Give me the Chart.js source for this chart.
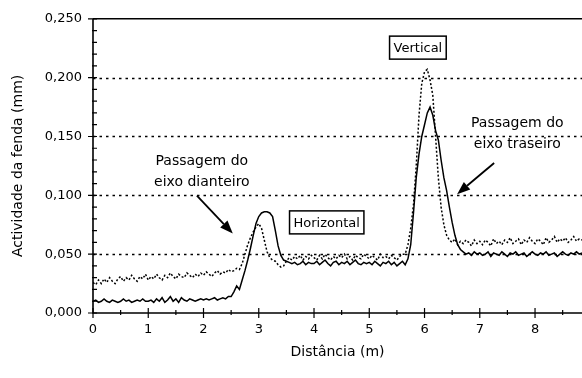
<!DOCTYPE html>
<html>
<head>
<meta charset="utf-8">
<script src="https://cdn.jsdelivr.net/npm/chart.js@4.4.0/dist/chart.umd.min.js"></script>
<style>
  html, body { margin: 0; padding: 0; background: #fff; }
  #wrap { width: 582px; height: 378px; }
</style>
</head>
<body>
<div id="wrap"><canvas id="myChart" width="582" height="378"></canvas></div>
<script>
// distance along the test (m), sampled every 5 cm
const distance = [
  0, 0.05, 0.1, 0.15, 0.2, 0.25, 0.3, 0.35, 0.4, 0.45, 0.5, 0.55, 0.6, 0.65, 0.7, 0.75, 0.8, 0.85, 0.9, 0.95,
  1, 1.05, 1.1, 1.15, 1.2, 1.25, 1.3, 1.35, 1.4, 1.45, 1.5, 1.55, 1.6, 1.65, 1.7, 1.75, 1.8, 1.85, 1.9, 1.95,
  2, 2.05, 2.1, 2.15, 2.2, 2.25, 2.3, 2.35, 2.4, 2.45, 2.5, 2.55, 2.6, 2.65, 2.7, 2.75, 2.8, 2.85, 2.9, 2.95,
  3, 3.05, 3.1, 3.15, 3.2, 3.25, 3.3, 3.35, 3.4, 3.45, 3.5, 3.55, 3.6, 3.65, 3.7, 3.75, 3.8, 3.85, 3.9, 3.95,
  4, 4.05, 4.1, 4.15, 4.2, 4.25, 4.3, 4.35, 4.4, 4.45, 4.5, 4.55, 4.6, 4.65, 4.7, 4.75, 4.8, 4.85, 4.9, 4.95,
  5, 5.05, 5.1, 5.15, 5.2, 5.25, 5.3, 5.35, 5.4, 5.45, 5.5, 5.55, 5.6, 5.65, 5.7, 5.75, 5.8, 5.85, 5.9, 5.95,
  6, 6.05, 6.1, 6.15, 6.2, 6.25, 6.3, 6.35, 6.4, 6.45, 6.5, 6.55, 6.6, 6.65, 6.7, 6.75, 6.8, 6.85, 6.9, 6.95,
  7, 7.05, 7.1, 7.15, 7.2, 7.25, 7.3, 7.35, 7.4, 7.45, 7.5, 7.55, 7.6, 7.65, 7.7, 7.75, 7.8, 7.85, 7.9, 7.95,
  8, 8.05, 8.1, 8.15, 8.2, 8.25, 8.3, 8.35, 8.4, 8.45, 8.5, 8.55, 8.6, 8.65, 8.7, 8.75, 8.8, 8.85
];

// solid line
const horizontal = [
  0.010, 0.011, 0.009, 0.010, 0.012, 0.010, 0.009, 0.011, 0.010, 0.009, 0.010, 0.012, 0.010, 0.011, 0.009, 0.010, 0.011, 0.010, 0.012, 0.010,
  0.010, 0.011, 0.009, 0.012, 0.010, 0.013, 0.009, 0.011, 0.014, 0.010, 0.012, 0.009, 0.013, 0.011, 0.010, 0.012, 0.011, 0.010, 0.011, 0.012,
  0.011, 0.012, 0.011, 0.012, 0.013, 0.011, 0.012, 0.013, 0.012, 0.014, 0.014, 0.018, 0.023, 0.020, 0.028, 0.036, 0.045, 0.055, 0.066, 0.076,
  0.082, 0.085, 0.086, 0.086, 0.085, 0.082, 0.070, 0.057, 0.049, 0.045, 0.044, 0.043, 0.042, 0.043, 0.041, 0.042, 0.044, 0.041, 0.043, 0.042,
  0.042, 0.044, 0.041, 0.043, 0.045, 0.042, 0.040, 0.043, 0.044, 0.041, 0.043, 0.042, 0.044, 0.041, 0.043, 0.045, 0.042, 0.041, 0.043, 0.042,
  0.043, 0.041, 0.044, 0.042, 0.040, 0.043, 0.042, 0.044, 0.041, 0.043, 0.040, 0.042, 0.044, 0.041, 0.046, 0.058, 0.085, 0.115, 0.135, 0.150,
  0.160, 0.170, 0.175, 0.168, 0.155, 0.147, 0.130, 0.115, 0.104, 0.090, 0.077, 0.066, 0.058, 0.054, 0.052, 0.050, 0.051, 0.049, 0.052, 0.050,
  0.051, 0.049, 0.050, 0.052, 0.048, 0.051, 0.050, 0.049, 0.052, 0.050, 0.048, 0.051, 0.050, 0.052, 0.049, 0.050, 0.051, 0.048, 0.050, 0.052,
  0.050, 0.049, 0.051, 0.050, 0.052, 0.049, 0.050, 0.051, 0.048, 0.050, 0.052, 0.050, 0.049, 0.051, 0.050, 0.052, 0.050, 0.051
];

// dotted line
const vertical = [
  0.026, 0.024, 0.028, 0.025, 0.029, 0.026, 0.030, 0.027, 0.025, 0.029, 0.031, 0.027, 0.030, 0.028, 0.032, 0.029, 0.027, 0.031, 0.029, 0.033,
  0.028, 0.031, 0.029, 0.033, 0.030, 0.028, 0.032, 0.030, 0.034, 0.031, 0.029, 0.033, 0.031, 0.030, 0.034, 0.032, 0.030, 0.033, 0.031, 0.034,
  0.032, 0.035, 0.033, 0.031, 0.034, 0.036, 0.033, 0.035, 0.034, 0.037, 0.035, 0.036, 0.038, 0.037, 0.042, 0.050, 0.058, 0.064, 0.069, 0.073,
  0.076, 0.072, 0.062, 0.052, 0.047, 0.045, 0.044, 0.041, 0.039, 0.040, 0.044, 0.047, 0.045, 0.048, 0.046, 0.049, 0.045, 0.048, 0.046, 0.049,
  0.047, 0.045, 0.049, 0.046, 0.050, 0.047, 0.045, 0.048, 0.046, 0.049, 0.047, 0.050, 0.046, 0.048, 0.045, 0.049, 0.047, 0.046, 0.050, 0.048,
  0.046, 0.049, 0.047, 0.045, 0.050, 0.047, 0.048, 0.046, 0.049, 0.047, 0.045, 0.048, 0.050, 0.050, 0.058, 0.072, 0.092, 0.125, 0.168, 0.195,
  0.205, 0.207, 0.198, 0.185, 0.150, 0.115, 0.090, 0.075, 0.066, 0.062, 0.060, 0.063, 0.058, 0.061, 0.059, 0.062, 0.060, 0.057, 0.062, 0.059,
  0.061, 0.058, 0.062, 0.060, 0.057, 0.063, 0.059, 0.061, 0.058, 0.062, 0.060, 0.064, 0.059, 0.061, 0.063, 0.058, 0.062, 0.060, 0.064, 0.061,
  0.059, 0.063, 0.061, 0.058, 0.064, 0.060, 0.062, 0.065, 0.060, 0.063, 0.061, 0.064, 0.060, 0.062, 0.065, 0.061, 0.063, 0.062
];

const xTicks = [0, 1, 2, 3, 4, 5, 6, 7, 8];
const yTicks = [0, 0.05, 0.1, 0.15, 0.2, 0.25];

// labels drawn on top of the chart, in data units
const notes = [
  { x: 1.97, y: 0.129, text: "Passagem do" },
  { x: 1.97, y: 0.111, text: "eixo dianteiro" },
  { x: 7.68, y: 0.161, text: "Passagem do" },
  { x: 7.68, y: 0.143, text: "eixo traseiro" },
];
const boxes = [
  { x: 4.23, y: 0.077, text: "Horizontal" },
  { x: 5.88, y: 0.2255, text: "Vertical" },
];
const arrows = [
  { x0: 1.88, y0: 0.0997, x1: 2.53, y1: 0.0676 },
  { x0: 7.26, y0: 0.1275, x1: 6.59, y1: 0.101 },
];

const FONT = "'DejaVu Sans', sans-serif";

const toPts = (ys) => ys.map((v, i) => ({ x: distance[i], y: v }));

// gridlines, axes, ticks and the notes
const framePlugin = {
  id: "frame",
  beforeDatasetsDraw(chart) {
    const { ctx, chartArea: a, scales: { y } } = chart;
    ctx.save();
    ctx.strokeStyle = "#000";
    ctx.lineWidth = 1.6;
    ctx.setLineDash([2.5, 4]);
    yTicks.forEach((v) => {
      if (v === 0 || v === 0.25) return;
      const py = Math.round(y.getPixelForValue(v)) + 0.5;
      ctx.beginPath();
      ctx.moveTo(a.left, py);
      ctx.lineTo(a.right, py);
      ctx.stroke();
    });
    ctx.restore();
  },
  afterDatasetsDraw(chart) {
    const { ctx, chartArea: a, scales: { x, y } } = chart;
    ctx.save();
    ctx.strokeStyle = "#000";
    ctx.lineWidth = 1.6;
    ctx.beginPath();
    ctx.moveTo(a.left, a.top);
    ctx.lineTo(a.right, a.top);
    ctx.moveTo(a.left, a.top);
    ctx.lineTo(a.left, a.bottom);
    ctx.lineTo(a.right, a.bottom);
    ctx.stroke();

    // major and minor tick marks
    ctx.lineWidth = 1.2;
    ctx.beginPath();
    for (let i = 0; i <= 25; i++) {
      const py = y.getPixelForValue(i * 0.01);
      if (i % 5 === 0) {
        ctx.moveTo(a.left - 5, py);
        ctx.lineTo(a.left + 4, py);
      } else {
        ctx.moveTo(a.left - 1, py);
        ctx.lineTo(a.left + 4, py);
      }
    }
    for (let i = 0; i <= 17; i++) {
      const px = x.getPixelForValue(i * 0.5);
      if (i % 2 === 0) {
        ctx.moveTo(px, a.bottom - 5);
        ctx.lineTo(px, a.bottom + 5);
      } else {
        ctx.moveTo(px, a.bottom - 3);
        ctx.lineTo(px, a.bottom + 2);
      }
    }
    ctx.stroke();
    ctx.restore();
  },
  afterDraw(chart) {
    const { ctx, scales: { x, y } } = chart;
    ctx.save();
    ctx.fillStyle = "#000";
    ctx.strokeStyle = "#000";
    ctx.textAlign = "center";
    ctx.textBaseline = "middle";
    ctx.font = "14px " + FONT;
    notes.forEach((n) => {
      ctx.fillText(n.text, x.getPixelForValue(n.x), y.getPixelForValue(n.y));
    });
    ctx.font = "13px " + FONT;
    boxes.forEach((b) => {
      const px = x.getPixelForValue(b.x);
      const py = y.getPixelForValue(b.y);
      const w = ctx.measureText(b.text).width + 8;
      const h = 23;
      ctx.fillStyle = "#fff";
      ctx.fillRect(px - w / 2, py - h / 2, w, h);
      ctx.lineWidth = 1.5;
      ctx.strokeRect(px - w / 2, py - h / 2, w, h);
      ctx.fillStyle = "#000";
      ctx.fillText(b.text, px, py + 1);
    });
    arrows.forEach((ar) => {
      const sx = x.getPixelForValue(ar.x0), sy = y.getPixelForValue(ar.y0);
      const ex = x.getPixelForValue(ar.x1), ey = y.getPixelForValue(ar.y1);
      const ang = Math.atan2(ey - sy, ex - sx);
      const len = 13, half = 5;
      const bx = ex - len * Math.cos(ang), by = ey - len * Math.sin(ang);
      ctx.lineWidth = 1.8;
      ctx.beginPath();
      ctx.moveTo(sx, sy);
      ctx.lineTo(bx, by);
      ctx.stroke();
      ctx.beginPath();
      ctx.moveTo(ex, ey);
      ctx.lineTo(bx + half * Math.sin(ang), by - half * Math.cos(ang));
      ctx.lineTo(bx - half * Math.sin(ang), by + half * Math.cos(ang));
      ctx.closePath();
      ctx.fill();
    });
    ctx.restore();
  },
};

const ctx = document.getElementById("myChart").getContext("2d");

window.myChart = new Chart(ctx, {
  type: "line",
  data: {
    datasets: [
      {
        label: "Horizontal",
        data: toPts(horizontal),
        borderColor: "#000",
        borderWidth: 1.5,
        pointRadius: 0,
        tension: 0,
      },
      {
        label: "Vertical",
        data: toPts(vertical),
        borderColor: "#000",
        borderWidth: 1.5,
        borderDash: [2, 2],
        pointRadius: 0,
        tension: 0,
      },
    ],
  },
  options: {
    responsive: false,
    animation: false,
    devicePixelRatio: 1,
    layout: { padding: { top: 17, right: 0, bottom: 0, left: 0 } },
    plugins: {
      legend: { display: false },
      tooltip: { enabled: false },
    },
    scales: {
      x: {
        type: "linear",
        min: 0,
        max: 8.85,
        afterFit: (s) => { s.height = 65; },
        afterBuildTicks: (s) => { s.ticks = xTicks.map((v) => ({ value: v })); },
        grid: { display: false, drawTicks: false },
        border: { display: false },
        ticks: {
          padding: 9,
          color: "#000",
          font: { family: FONT, size: 13 },
          callback: (v) => String(v),
        },
        title: {
          display: true,
          text: "Distância (m)",
          color: "#000",
          font: { family: FONT, size: 14 },
          padding: 17,
        },
      },
      y: {
        min: 0,
        max: 0.25,
        afterFit: (s) => { s.width = 93; },
        afterBuildTicks: (s) => { s.ticks = yTicks.map((v) => ({ value: v })); },
        grid: { display: false, drawTicks: false },
        border: { display: false },
        ticks: {
          padding: 11,
          color: "#000",
          font: { family: FONT, size: 13 },
          callback: (v) => v.toFixed(3).replace(".", ","),
        },
        title: {
          display: true,
          text: "Actividade da fenda (mm)",
          color: "#000",
          font: { family: FONT, size: 14 },
          padding: 10,
        },
      },
    },
  },
  plugins: [framePlugin],
});
</script>
</body>
</html>
